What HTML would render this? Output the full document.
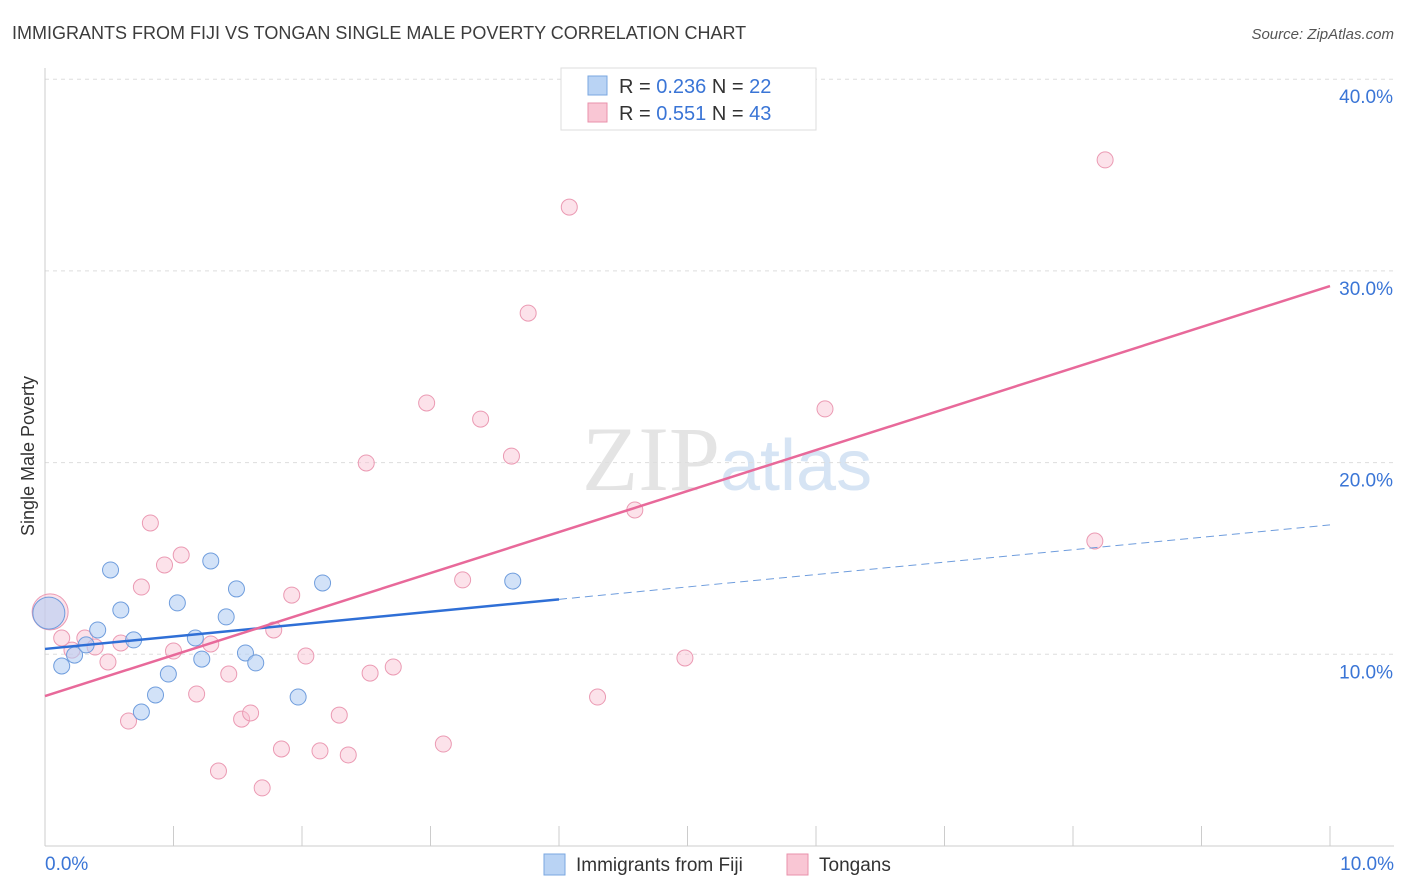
<!DOCTYPE html>
<html><head><meta charset="utf-8">
<style>
body{margin:0;background:#fff;font-family:"Liberation Sans",sans-serif;}
</style></head>
<body>
<svg id="chart" width="1406" height="892" xmlns="http://www.w3.org/2000/svg" style="display:block">
<text x="12" y="39" font-size="18" fill="#3c3c3c">IMMIGRANTS FROM FIJI VS TONGAN SINGLE MALE POVERTY CORRELATION CHART</text>
<text x="1394" y="39" font-size="15" fill="#555" font-style="italic" text-anchor="end">Source: ZipAtlas.com</text>
<text x="720" y="490" font-size="92" fill="#e4e4e4" text-anchor="end" font-family="Liberation Serif">ZIP</text>
<text x="720" y="490" font-size="72" fill="#d6e4f4">atlas</text>
<text transform="translate(34,456) rotate(-90)" font-size="18" fill="#333" text-anchor="middle">Single Male Poverty</text>
<g id="grid"></g><g id="axes"></g><g id="marks"></g>
<g>
<rect x="561" y="68" width="255" height="62" fill="#fff" stroke="#ddd"/>
<rect x="588" y="76" width="19" height="19" fill="#b9d3f4" stroke="#7aa7e0"/>
<text x="619" y="93" font-size="20" fill="#333">R = <tspan fill="#3a75d6">0.236</tspan>   N = <tspan fill="#3a75d6">22</tspan></text>
<rect x="588" y="103" width="19" height="19" fill="#f9c6d4" stroke="#e991ab"/>
<text x="619" y="120" font-size="20" fill="#333">R =  <tspan fill="#3a75d6">0.551</tspan>   N = <tspan fill="#3a75d6">43</tspan></text>
</g>
<g>
<rect x="544" y="854" width="21" height="21" fill="#b9d3f4" stroke="#7aa7e0"/>
<text x="576" y="871" font-size="19" fill="#333">Immigrants from Fiji</text>
<rect x="787" y="854" width="21" height="21" fill="#f9c6d4" stroke="#e991ab"/>
<text x="819" y="871" font-size="19" fill="#333">Tongans</text>
</g>
</svg>
<script>
const fijiX=[0.03,0.13,0.23,0.32,0.41,0.51,0.59,0.69,0.75,0.86,0.96,1.03,1.17,1.22,1.29,1.41,1.49,1.56,1.64,1.97,2.16,3.64];
const fijiY=[12.15,9.39,9.96,10.49,11.27,14.40,12.31,10.75,6.99,7.88,8.97,12.68,10.85,9.75,14.87,11.95,13.41,10.07,9.55,7.77,13.72,13.82];
const tonX=[0.04,0.13,0.21,0.31,0.39,0.49,0.59,0.65,0.75,0.82,0.93,1.00,1.06,1.18,1.29,1.35,1.43,1.53,1.60,1.69,1.78,1.84,1.92,2.03,2.14,2.29,2.36,2.50,2.53,2.71,2.97,3.10,3.25,3.39,3.63,3.76,4.08,4.30,4.59,4.98,6.07,8.17,8.25];
const tonY=[12.21,10.85,10.22,10.85,10.38,9.60,10.59,6.52,13.51,16.85,14.66,10.17,15.18,7.93,10.54,3.91,8.97,6.62,6.94,3.03,11.27,5.06,13.09,9.91,4.96,6.83,4.75,19.98,9.02,9.34,23.11,5.32,13.88,22.27,20.34,27.80,33.33,7.77,17.53,9.81,22.80,15.91,35.79];
const fijiTrend=[10.28,16.75];
const tonTrend=[7.82,29.21];
const yTicks=[10,20,30,40];
const xLabels=["0.0%","10.0%"];
const NS="http://www.w3.org/2000/svg";
const xs=v=>45+v*128.5, ys=v=>846-v*19.17;
function mk(tag,attrs,parent){const e=document.createElementNS(NS,tag);for(const k in attrs)e.setAttribute(k,attrs[k]);document.getElementById(parent).appendChild(e);return e;}
yTicks.forEach(t=>{
 const l=mk('line',{x1:45,x2:1394,y1:ys(t),y2:ys(t),stroke:'#ddd','stroke-dasharray':'4,4'},'grid');
 
 
 const tx=mk('text',{x:1393,y:ys(t)+24,'font-size':19,fill:'#3a75d6','text-anchor':'end'},'axes');
 tx.textContent=t.toFixed(1)+'%';
 
 
});
const ax=mk('line',{x1:45,x2:1394,y1:846,y2:846,stroke:'#ccc'},'axes');


const ay=mk('line',{x1:45,x2:45,y1:68,y2:846,stroke:'#ccc'},'axes');


for(let i=1;i<=10;i++){const t=mk('line',{x1:xs(i),x2:xs(i),y1:826,y2:846,stroke:'#ccc'},'axes');
 
 }
[[0,'start',45],[1,'end',1394]].forEach(([i,a,x])=>{const t=mk('text',{x:x,y:870,'font-size':19,fill:'#3a75d6','text-anchor':a},'axes');t.textContent=xLabels[i];
 
 });
tonX.forEach((x,i)=>{const c=mk('circle',{cx:xs(x),cy:ys(tonY[i]),r:i==0?18:8,fill:'rgba(249,190,208,0.45)',stroke:'#eb9ab3','stroke-width':1},'marks');
 
 });
fijiX.forEach((x,i)=>{const c=mk('circle',{cx:xs(x),cy:ys(fijiY[i]),r:i==0?16:8,fill:'rgba(180,206,243,0.6)',stroke:'#6f9ddd','stroke-width':1},'marks');
 
 });
const fy=x=>fijiTrend[0]+(fijiTrend[1]-fijiTrend[0])*x/10;
const l1=mk('line',{x1:xs(0),y1:ys(fy(0)),x2:xs(4),y2:ys(fy(4)),stroke:'#2f6fd6','stroke-width':2.5},'marks');


const l2=mk('line',{x1:xs(4),y1:ys(fy(4)),x2:xs(10),y2:ys(fy(10)),stroke:'#6f9ddd','stroke-width':1,'stroke-dasharray':'8,5'},'marks');


const l3=mk('line',{x1:xs(0),y1:ys(tonTrend[0]),x2:xs(10),y2:ys(tonTrend[1]),stroke:'#e8699a','stroke-width':2.5},'marks');


</script>
</body></html>
